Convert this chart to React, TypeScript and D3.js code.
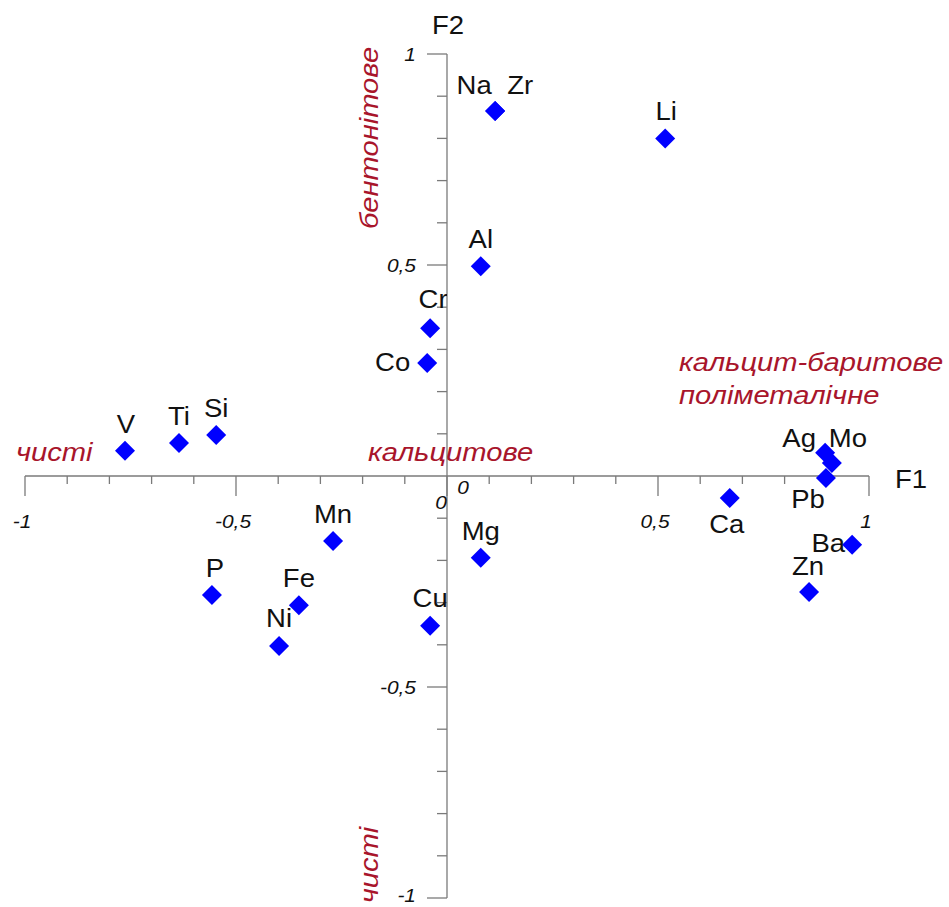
import React from "react";
import * as d3 from "d3";

// Factor loadings on F1 / F2
const elements = ["Na", "Zr", "Li", "Al", "Cr", "Co", "V", "Ti", "Si", "Mn", "P", "Fe", "Ni", "Cu", "Mg", "Ca", "Ag", "Mo", "Pb", "Ba", "Zn"];
const f1Values = [0.114, 0.114, 0.517, 0.08, -0.04, -0.047, -0.763, -0.635, -0.547, -0.27, -0.557, -0.351, -0.398, -0.04, 0.08, 0.67, 0.896, 0.912, 0.898, 0.96, 0.858];
const f2Values = [0.865, 0.865, 0.8, 0.497, 0.35, 0.268, 0.06, 0.078, 0.097, -0.154, -0.282, -0.306, -0.403, -0.355, -0.194, -0.052, 0.055, 0.031, -0.005, -0.163, -0.275];

const majorTicks = [-1, -0.5, 0, 0.5, 1];
const tickLabels = ["-1", "-0,5", "0", "0,5", "1"];

// Label placement around each marker: [dx, dy, anchor]
const labelPlacement: Record<string, [number, number, string]> = {
  Na: [-21, -17, "middle"],
  Zr: [25, -17, "middle"],
  Li: [1, -18, "middle"],
  Al: [0, -18, "middle"],
  Cr: [3, -20, "middle"],
  Co: [-17, 8, "end"],
  V: [1, -18, "middle"],
  Ti: [0, -18, "middle"],
  Si: [0, -18, "middle"],
  Mn: [0, -18, "middle"],
  P: [3, -18, "middle"],
  Fe: [0, -18, "middle"],
  Ni: [0, -19, "middle"],
  Cu: [0, -19, "middle"],
  Mg: [0, -18, "middle"],
  Ca: [-3, 35, "middle"],
  Ag: [-26, -6, "middle"],
  Mo: [16, -16, "middle"],
  Pb: [-18, 30, "middle"],
  Ba: [-7, 7, "end"],
  Zn: [-1, -17, "middle"],
};

const RED = "#a8152b";
const BLUE = "#0000ff";
const AXIS = "#7a7a7a";
const SANS = "'Liberation Sans', Arial, sans-serif";
const STRETCH = 1.1;

type TProps = {
  x: number;
  y: number;
  rotate?: number;
  children: React.ReactNode;
  [k: string]: any;
};

// Text with a slight horizontal stretch
function SText({ x, y, rotate = 0, children, ...rest }: TProps) {
  return (
    <text transform={`translate(${x},${y}) rotate(${rotate}) scale(${STRETCH},1)`} {...rest}>
      {children}
    </text>
  );
}

export default function App() {
  const width = 949;
  const height = 907;
  const x = d3.scaleLinear().domain([-1, 1]).range([25, 869]);
  const y = d3.scaleLinear().domain([-1, 1]).range([898, 54]);
  const x0 = x(0);
  const y0 = y(0);

  const minor = d3.range(-10, 11).map((i) => i / 10);
  const isMajor = (v: number) => Math.abs(v * 2 - Math.round(v * 2)) < 1e-9;
  const diamond = "M0,-10L10,0L0,10L-10,0Z";

  return (
    <svg
      width={width}
      height={height}
      style={{ position: "absolute", left: 0, top: 0, background: "#fff" }}
      fontFamily={SANS}
    >
      <defs>
        <clipPath id="leftOfAxis" clipPathUnits="userSpaceOnUse">
          <rect x={0} y={0} width={x0} height={height} />
        </clipPath>
      </defs>

      {/* horizontal axis F1 */}
      <g stroke={AXIS} strokeWidth={1.3}>
        <line x1={x(-1)} x2={x(1)} y1={y0} y2={y0} />
        {minor.map((v) => (
          <line key={"xt" + v} x1={x(v)} x2={x(v)} y1={y0} y2={y0 + (isMajor(v) ? 20 : 8)} />
        ))}
      </g>
      {/* vertical axis F2 */}
      <g stroke={AXIS} strokeWidth={1.3}>
        <line x1={x0} x2={x0} y1={y(1)} y2={y(-1)} />
        {minor
          .filter((v) => v !== 0)
          .map((v) => (
            <line key={"yt" + v} x1={x0 - (isMajor(v) ? 20 : 10)} x2={x0} y1={y(v)} y2={y(v)} />
          ))}
      </g>

      {/* tick labels */}
      <g fontStyle="italic" fontSize={19} fill="#111">
        {majorTicks.map((v, i) =>
          v === 0 ? null : (
            <SText key={"xl" + v} x={x(v) - 3} y={y0 + 52} textAnchor="middle">
              {tickLabels[i]}
            </SText>
          )
        )}
        {majorTicks.map((v, i) =>
          v === 0 ? null : (
            <SText key={"yl" + v} x={x0 - 31} y={Math.min(y(v) + 7, height - 5)} textAnchor="end">
              {tickLabels[i]}
            </SText>
          )
        )}
        <SText x={x0 + 16} y={y0 + 18} textAnchor="middle">{tickLabels[2]}</SText>
        <SText x={x0 - 6} y={y0 + 33} textAnchor="middle">{tickLabels[2]}</SText>
      </g>

      {/* axis titles */}
      <g fontSize={25} fill="#111">
        <SText x={x0 + 1} y={34} textAnchor="middle">F2</SText>
        <SText x={895} y={488}>F1</SText>
      </g>

      {/* group annotations */}
      <g fontStyle="italic" fontSize={26.5} fill={RED}>
        <SText x={378} y={138} rotate={-90} textAnchor="middle">бентонітове</SText>
        <SText x={378} y={865} rotate={-90} textAnchor="middle">чисті</SText>
        <SText x={16} y={461}>чисті</SText>
        <SText x={368} y={461}>кальцитове</SText>
        <SText x={679} y={371}>кальцит-баритове</SText>
        <SText x={679} y={404}>поліметалічне</SText>
      </g>

      {/* markers */}
      <g fill={BLUE}>
        {elements.map((el, i) => (
          <path key={el} d={diamond} transform={`translate(${x(f1Values[i])},${y(f2Values[i])})`} />
        ))}
      </g>

      {/* element labels */}
      <g fontSize={25} fill="#111">
        {elements.map((el, i) => {
          const [dx, dy, anchor] = labelPlacement[el];
          const clipped = el === "Cr" || el === "Cu";
          const t = (
            <SText key={"lab" + el} x={x(f1Values[i]) + dx} y={y(f2Values[i]) + dy} textAnchor={anchor}>
              {el}
            </SText>
          );
          return clipped ? (
            <g key={"lab" + el} clipPath="url(#leftOfAxis)">
              {t}
            </g>
          ) : (
            t
          );
        })}
      </g>
    </svg>
  );
}
